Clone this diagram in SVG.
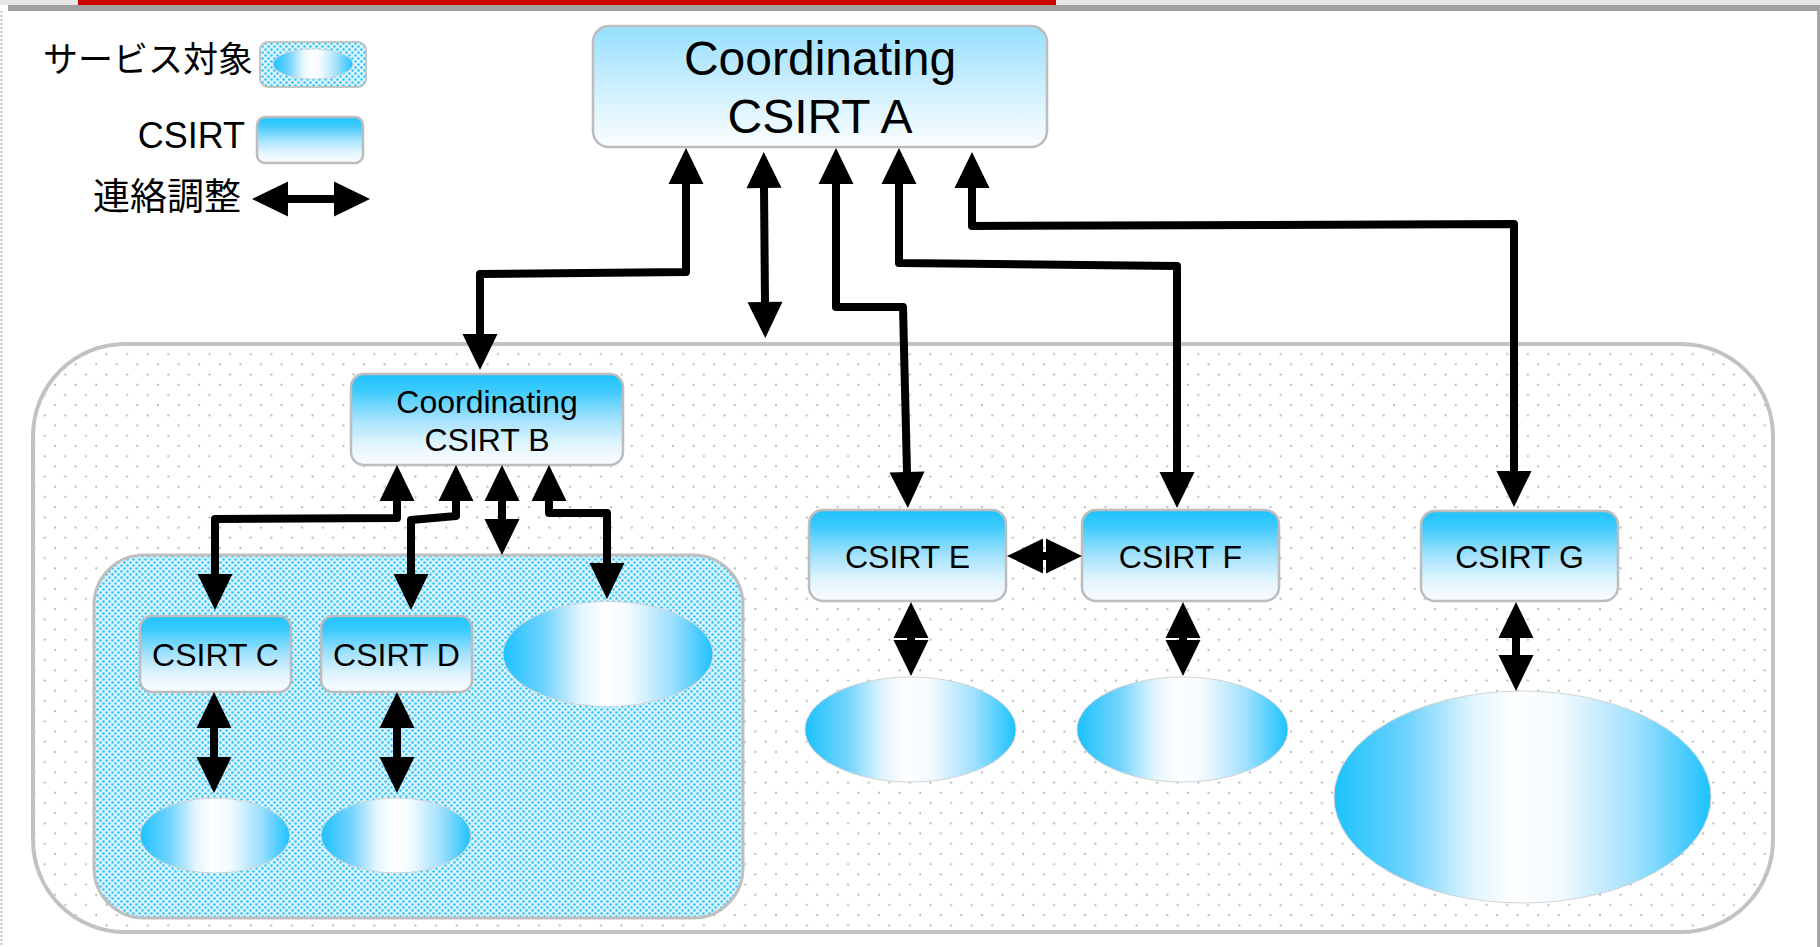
<svg xmlns="http://www.w3.org/2000/svg" width="1820" height="947" viewBox="0 0 1820 947">
  <style>
    .lbl{font-family:"Liberation Sans",Arial,sans-serif;fill:#000;text-anchor:middle}
    .leg{font-family:"Liberation Sans","Noto Sans CJK JP",sans-serif;font-size:36px;fill:#000;text-anchor:end}
    .box{fill:url(#gBox);stroke:#bdbdbd;stroke-width:2.5}
    .ell{fill:url(#gEll);stroke:#d4d4d4;stroke-width:1}
    .wire{fill:none;stroke:#000;stroke-width:8;stroke-linejoin:round;marker-start:url(#ah);marker-end:url(#ah)}
  </style>
  <defs>
    <linearGradient id="gBox" x1="0" y1="0" x2="0" y2="1">
      <stop offset="0" stop-color="#1fc3fd"/>
      <stop offset="0.18" stop-color="#3ccafd"/>
      <stop offset="0.5" stop-color="#a4e2fd"/>
      <stop offset="0.78" stop-color="#e2f5fe"/>
      <stop offset="1" stop-color="#fbfdff"/>
    </linearGradient>
    <linearGradient id="gBoxA" x1="0" y1="0" x2="0" y2="1">
      <stop offset="0" stop-color="#94dffe"/>
      <stop offset="0.5" stop-color="#cdeffe"/>
      <stop offset="1" stop-color="#fbfeff"/>
    </linearGradient>
    <linearGradient id="gEll" x1="0" y1="0" x2="1" y2="0">
      <stop offset="0" stop-color="#1cc2fd"/>
      <stop offset="0.2" stop-color="#72d3fd"/>
      <stop offset="0.37" stop-color="#e2f5fe"/>
      <stop offset="0.48" stop-color="#ffffff"/>
      <stop offset="0.6" stop-color="#f2faff"/>
      <stop offset="0.8" stop-color="#a0e0fd"/>
      <stop offset="1" stop-color="#1cc2fd"/>
    </linearGradient>
    <!-- sparse grey dots for the outer community area -->
    <pattern id="pGrey" patternUnits="userSpaceOnUse" width="20.6" height="20.4" x="0" y="0">
      <rect width="20.6" height="20.4" fill="#ffffff"/>
      <circle cx="3.5" cy="7.3" r="1.1" fill="#b0b0b0"/>
      <circle cx="13.8" cy="17.5" r="1.1" fill="#b0b0b0"/>
    </pattern>
    <!-- dense blue dots for the service-target area -->
    <pattern id="pBlue" patternUnits="userSpaceOnUse" width="6" height="6">
      <rect width="6" height="6" fill="#dcf4fe"/>
      <circle cx="1.5" cy="1.5" r="1.3" fill="#30c4f6"/>
      <circle cx="4.5" cy="4.5" r="1.3" fill="#30c4f6"/>
    </pattern>
    <marker id="ah" markerUnits="userSpaceOnUse" markerWidth="36" markerHeight="36" viewBox="0 -18 36 36" refX="0" refY="0" orient="auto-start-reverse" overflow="visible">
      <path d="M-1,-17.5 L35,0 L-1,17.5 Z" fill="#000"/>
    </marker>
  </defs>

  <!-- page frame -->
  <rect x="0" y="0" width="1820" height="947" fill="#ffffff"/>
  <rect x="0" y="0" width="1820" height="5" fill="#e6e6e6"/>
  <rect x="78" y="0" width="978" height="5" fill="#cc0000"/>
  <rect x="8" y="5" width="1812" height="6" fill="#a0a0a0"/>
  <line x1="1.5" y1="11" x2="1.5" y2="947" stroke="#c4c4c4" stroke-width="2" stroke-dasharray="2 2"/>
  <line x1="1818.5" y1="11" x2="1818.5" y2="947" stroke="#a6a6a6" stroke-width="3"/>

  <!-- legend -->
  <g id="legend">
    <text class="leg" x="253" y="72" style="font-size:35px">サービス対象</text>
    <rect x="260" y="42" width="106" height="45" rx="8" fill="url(#pBlue)" stroke="#c4c4c4" stroke-width="2"/>
    <ellipse class="ell" cx="313" cy="64" rx="40" ry="15"/>
    <text class="leg" x="245" y="148">CSIRT</text>
    <rect class="box" x="257" y="117" width="106" height="46" rx="8"/>
    <text class="leg" x="241" y="210" style="font-size:37px">連絡調整</text>
    <path class="wire" d="M287,199 H335"/>
  </g>

  <!-- constituency areas -->
  <g id="community">
    <rect x="33" y="344" width="1740" height="588" rx="92" fill="url(#pGrey)" stroke="#c2c2c2" stroke-width="4"/>
  </g>
  <g id="constituency-b">
    <rect x="94" y="555" width="649" height="363" rx="50" fill="url(#pBlue)" stroke="#bfbfbf" stroke-width="3"/>
  </g>

  <!-- nodes -->
  <g id="csirt-a">
    <rect x="593" y="26" width="454" height="121" rx="16" fill="url(#gBoxA)" stroke="#bdbdbd" stroke-width="2.5"/>
    <text class="lbl" x="820" y="75" font-size="48">Coordinating</text>
    <text class="lbl" x="820" y="133" font-size="48">CSIRT A</text>
  </g>
  <g id="csirt-b">
    <rect class="box" x="351" y="374" width="272" height="91" rx="13"/>
    <text class="lbl" x="487" y="413" font-size="32">Coordinating</text>
    <text class="lbl" x="487" y="451" font-size="32">CSIRT B</text>
  </g>
  <g id="csirt-c">
    <rect class="box" x="140" y="616" width="151" height="76" rx="12"/>
    <text class="lbl" x="215.5" y="666" font-size="32">CSIRT C</text>
  </g>
  <g id="csirt-d">
    <rect class="box" x="321" y="616" width="151" height="76" rx="12"/>
    <text class="lbl" x="396.5" y="666" font-size="32">CSIRT D</text>
  </g>
  <g id="csirt-e">
    <rect class="box" x="809" y="510" width="197" height="91" rx="14"/>
    <text class="lbl" x="907.5" y="568" font-size="32">CSIRT E</text>
  </g>
  <g id="csirt-f">
    <rect class="box" x="1082" y="510" width="197" height="91" rx="14"/>
    <text class="lbl" x="1180.5" y="568" font-size="32">CSIRT F</text>
  </g>
  <g id="csirt-g">
    <rect class="box" x="1421" y="511" width="197" height="90" rx="14"/>
    <text class="lbl" x="1519.5" y="568" font-size="32">CSIRT G</text>
  </g>

  <!-- service targets -->
  <g id="target-c"><ellipse class="ell" cx="215" cy="835.5" rx="75" ry="37.5"/></g>
  <g id="target-d"><ellipse class="ell" cx="396" cy="835.5" rx="75" ry="37.5"/></g>
  <g id="target-b"><ellipse class="ell" cx="608" cy="654" rx="105" ry="52.5"/></g>
  <g id="target-e"><ellipse class="ell" cx="910.5" cy="729.5" rx="105.5" ry="52.5"/></g>
  <g id="target-f"><ellipse class="ell" cx="1182.5" cy="729.5" rx="105.5" ry="52.5"/></g>
  <g id="target-g"><ellipse class="ell" cx="1522.5" cy="797" rx="188.5" ry="106"/></g>

  <!-- coordination links -->
  <g id="connectors">
    <path class="wire" d="M686,183 V272 L480,274 V335"/>
    <path class="wire" d="M764,187 L765,303"/>
    <path class="wire" d="M836,183 V307 H903 L907,473"/>
    <path class="wire" d="M899,183 V263 L1177,266 V473"/>
    <path class="wire" d="M972,187 V226 L1514,224 V472"/>
    <path class="wire" d="M397,500 V518 L215,519 V575"/>
    <path class="wire" d="M456,500 V516 L411,520 V575"/>
    <path class="wire" d="M502,500 V520"/>
    <path class="wire" d="M549,500 V513 H607 V564"/>
    <path class="wire" d="M214,727 V758"/>
    <path class="wire" d="M397,727 V758"/>
    <path class="wire" d="M1042,556 H1047"/>
    <path class="wire" d="M911,637 V641"/>
    <path class="wire" d="M1183,637 V641"/>
    <path class="wire" d="M1516,637 V656"/>
  </g>
</svg>
